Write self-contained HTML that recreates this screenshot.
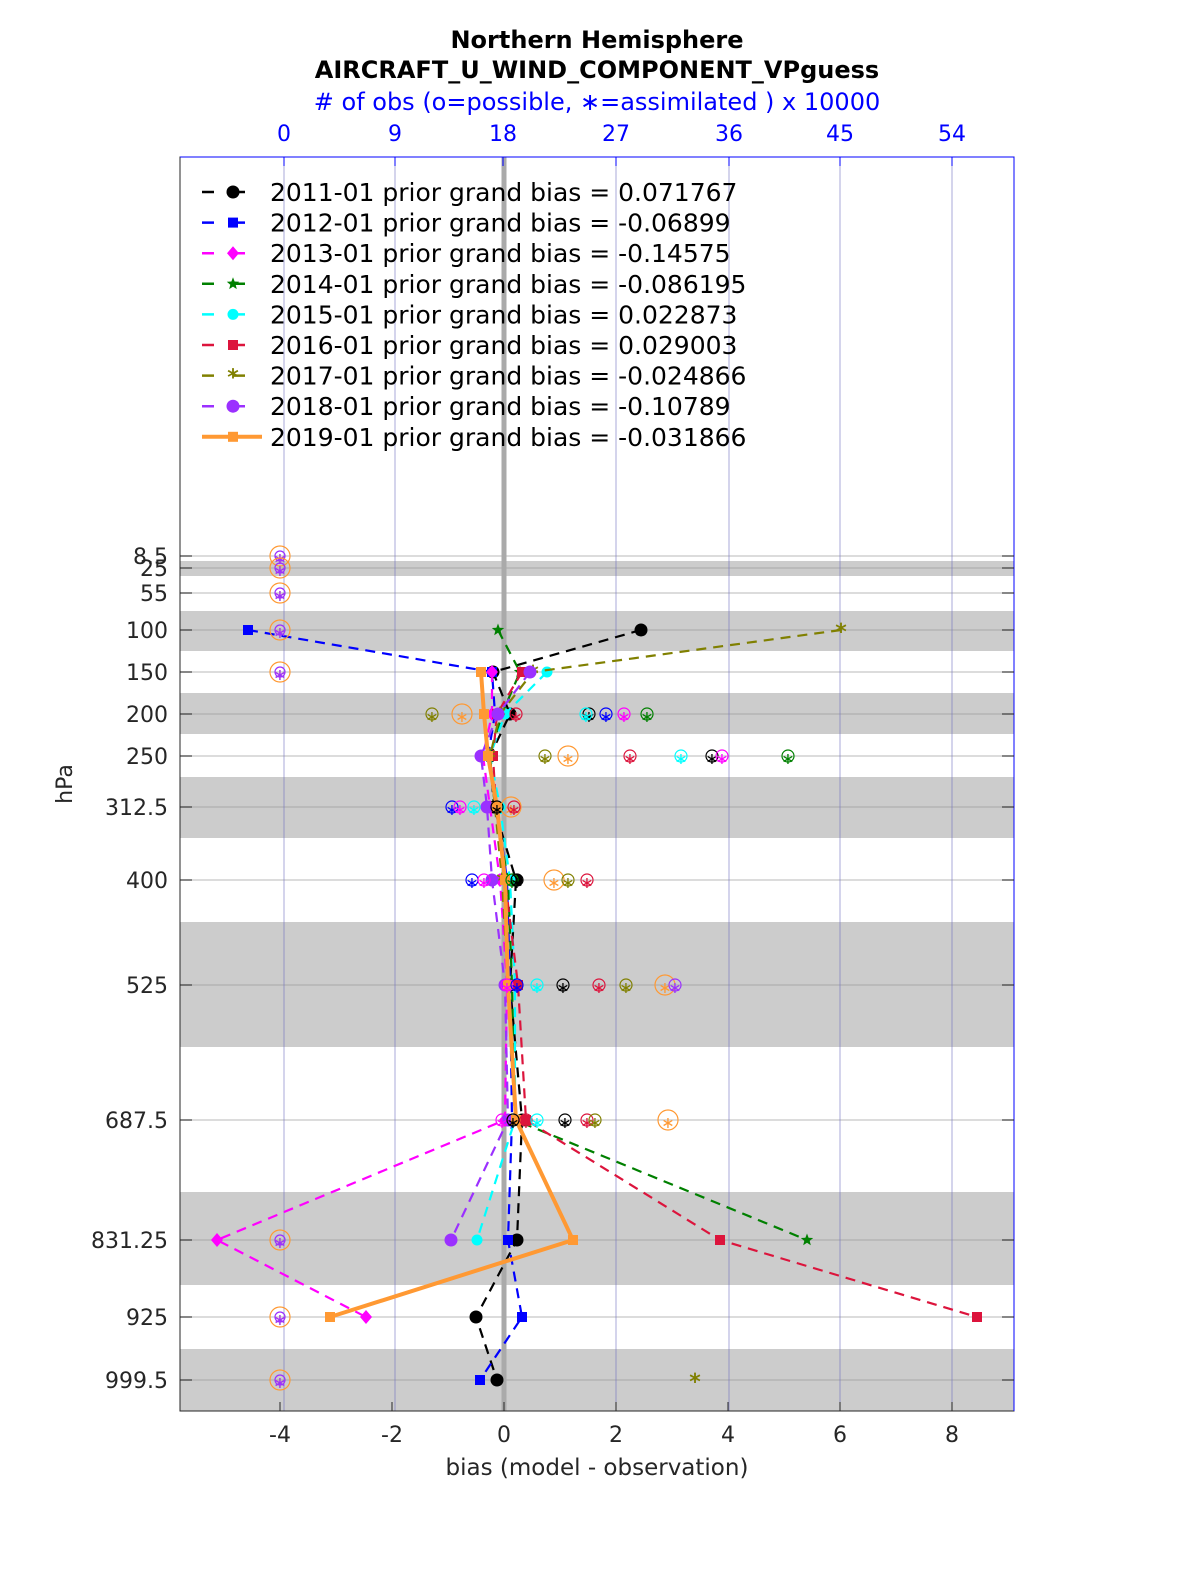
<!DOCTYPE html>
<html><head><meta charset="utf-8"><style>
html,body{margin:0;padding:0;background:#fff;overflow:hidden;width:1200px;height:1575px;}
svg{display:block;font-family:"DejaVu Sans","Liberation Sans",sans-serif;}
</style></head><body>
<svg id="s" width="1200" height="1575" viewBox="0 0 1200 1575" xmlns="http://www.w3.org/2000/svg">
<rect x="0" y="0" width="1200" height="1575" fill="#fff"/>
<g id="bands"></g>
<g id="grid"></g>
<g id="series"></g>
<g id="obs"></g>
<rect x="180" y="157" width="834" height="1254" fill="none" stroke="#262626" stroke-width="1"/>
<line x1="180" y1="157" x2="1014" y2="157" stroke="#00f" stroke-width="1"/>
<line x1="1014" y1="157" x2="1014" y2="1411" stroke="#00f" stroke-width="1"/>
<g id="ticks"></g>
<text x="597" y="48" text-anchor="middle" font-size="24" font-weight="bold">Northern Hemisphere</text>
<text x="597" y="78" text-anchor="middle" font-size="24" font-weight="bold">AIRCRAFT_U_WIND_COMPONENT_VPguess</text>
<text x="597" y="110" text-anchor="middle" font-size="24" fill="#00f"># of obs (o=possible, ∗=assimilated ) x 10000</text>
<text x="597" y="1475" text-anchor="middle" font-size="23" fill="#262626">bias (model - observation)</text>
<text x="72" y="784" text-anchor="middle" font-size="22" fill="#262626" transform="rotate(-90 72 784)">hPa</text>
<g id="legend"></g>
</svg>
<script>
const NS="http://www.w3.org/2000/svg";
function el(p,t,a,txt){const e=document.createElementNS(NS,t);for(const k in a)e.setAttribute(k,a[k]);if(txt!==undefined)e.textContent=txt;document.getElementById(p).appendChild(e);return e;}
const X=v=>504+56*v;
const L={"8.5":556,"25":568,"55":593,"100":630,"150":672,"200":714,"250":756,"312.5":807,"400":880,"525":985,"687.5":1120,"831.25":1240,"925":1317,"999.5":1380};
[[561,576],[611,651],[693,734],[777,838],[922,1047],[1192,1285],[1349,1411]].forEach(b=>el("bands","rect",{x:180,y:b[0],width:834,height:b[1]-b[0],fill:"#cccccc"}));
for(const k in L){el("grid","line",{x1:180,x2:1014,y1:L[k],y2:L[k],stroke:"#999","stroke-opacity":0.45,"stroke-width":1.5});
 el("ticks","line",{x1:180,x2:192,y1:L[k],y2:L[k],stroke:"#262626"});
 el("ticks","line",{x1:1002,x2:1014,y1:L[k],y2:L[k],stroke:"#262626"});
 el("ticks","text",{x:168,y:L[k]+8,"text-anchor":"end","font-size":22,fill:"#262626"},k);}
[284,395,503,616,729,840,952].forEach((x,i)=>{el("grid","line",{x1:x,x2:x,y1:157,y2:1411,stroke:"#7070c0","stroke-opacity":0.6,"stroke-width":1});
 el("ticks","text",{x:x,y:141,"text-anchor":"middle","font-size":22,fill:"#00f"},String(i*9));
 el("ticks","line",{x1:x,x2:x,y1:157,y2:166,stroke:"#00f"});});
el("grid","line",{x1:504,x2:504,y1:157,y2:1411,stroke:"#aaa","stroke-width":5});
[-4,-2,0,2,4,6,8].forEach(v=>{el("ticks","text",{x:X(v),y:1442,"text-anchor":"middle","font-size":22,fill:"#262626"},String(v));
 el("ticks","line",{x1:X(v),x2:X(v),y1:1402,y2:1411,stroke:"#262626"});});
const S=[
 {c:"#000",m:"o",p:[[100,641],[150,493],[200,510],[250,490],[312.5,494],[400,516],[525,510],[687.5,522],[831.25,517],[925,476],[999.5,497]]},
 {c:"#00f",m:"s",p:[[100,248],[150,492],[200,495],[250,488],[312.5,497],[400,507],[525,510],[687.5,512],[831.25,508],[925,522],[999.5,480]]},
 {c:"#f0f",m:"d",p:[[150,492],[200,492],[250,483],[312.5,490],[400,500],[525,507],[687.5,505],[831.25,217],[925,366]]},
 {c:"#008000",m:"p",p:[[100,498],[150,520],[200,502],[250,490],[312.5,495],[400,508],[525,512],[687.5,515],[831.25,807]]},
 {c:"#0ff",m:"h",p:[[150,547],[200,505],[250,490],[312.5,500],[400,510],[525,515],[687.5,515],[831.25,477]]},
 {c:"#dc143c",m:"s",p:[[150,522],[200,497],[250,493],[312.5,496],[400,505],[525,518],[687.5,526],[831.25,720],[925,977]]},
 {c:"#808000",m:"*",p:[[100,841],[150,533],[200,500],[250,490],[312.5,495],[400,502],[525,508],[687.5,515]],extra:[[999.5,695]]},
 {c:"#9b30ff",m:"o",p:[[150,530],[200,498],[250,481],[312.5,487],[400,492],[525,505],[687.5,508],[831.25,451]]},
 {c:"#ff9933",m:"s",w:4,p:[[150,481],[200,484],[250,488],[312.5,497],[400,505],[525,508],[687.5,516],[831.25,573],[925,330]]}
];
function marker(g,m,x,y,c){
 if(m==="o")el(g,"circle",{cx:x,cy:y,r:6.5,fill:c});
 else if(m==="s")el(g,"rect",{x:x-5,y:y-5,width:10,height:10,fill:c});
 else if(m==="d")el(g,"polygon",{points:`${x},${y-7} ${x+6},${y} ${x},${y+7} ${x-6},${y}`,fill:c});
 else if(m==="p"){let pts=[];for(let i=0;i<10;i++){const r=i%2?2.8:6.5,a=-Math.PI/2+i*Math.PI/5;pts.push((x+r*Math.cos(a)).toFixed(1)+","+(y+r*Math.sin(a)).toFixed(1));}el(g,"polygon",{points:pts.join(" "),fill:c});}
 else if(m==="h")el(g,"circle",{cx:x,cy:y,r:5.5,fill:c});
 else el(g,"text",{x:x,y:y+9,"text-anchor":"middle","font-size":22,"font-weight":"bold",fill:c},"*");
}
S.forEach(s=>{const pts=s.p.map(q=>[q[1],L[String(q[0])]]);
 el("series","polyline",{points:pts.map(q=>q.join(",")).join(" "),fill:"none",stroke:s.c,"stroke-width":s.w||2.2,"stroke-dasharray":s.w?"":"10,7"});
 pts.forEach(q=>marker("series",s.m,q[0],q[1],s.c));
 (s.extra||[]).forEach(q=>marker("series",s.m,q[1],L[String(q[0])],s.c));});
function obs(x,y,c,r){el("obs","circle",{cx:x,cy:y,r:r||6,fill:"none",stroke:c,"stroke-width":1.2});
 el("obs","text",{x:x,y:y+8,"text-anchor":"middle","font-size":16,fill:c},"∗");}
["8.5","25","55","100","150","831.25","925","999.5"].forEach(k=>{obs(280,L[k],"#ff9933",10);obs(280,L[k],"#9b30ff",5);});
const O=[[200,[[432,"#808000"],[462,"#ff9933",10],[516,"#dc143c"],[589,"#000"],[606,"#00f"],[624,"#f0f"],[647,"#008000"],[586,"#0ff"]]],
 [250,[[545,"#808000"],[568,"#ff9933",10],[630,"#dc143c"],[681,"#0ff"],[712,"#000"],[722,"#f0f"],[788,"#008000"]]],
 [312.5,[[452,"#00f"],[460,"#f0f"],[474,"#0ff"],[497,"#000"],[511,"#ff9933",10],[514,"#dc143c"]]],
 [400,[[472,"#00f"],[484,"#f0f"],[512,"#008000"],[517,"#000"],[554,"#ff9933",10],[568,"#808000"],[587,"#dc143c"]]],
 [525,[[507,"#f0f"],[517,"#00f"],[537,"#0ff"],[563,"#000"],[599,"#dc143c"],[626,"#808000"],[665,"#ff9933",10],[675,"#9b30ff"]]],
 [687.5,[[502,"#f0f"],[513,"#000"],[526,"#dc143c"],[537,"#0ff"],[565,"#000"],[587,"#dc143c"],[595,"#808000"],[668,"#ff9933",10]]]];
O.forEach(r=>r[1].forEach(o=>obs(o[0],L[String(r[0])],o[1],o[2])));
const names=["2011-01 prior grand bias = 0.071767","2012-01 prior grand bias = -0.06899","2013-01 prior grand bias = -0.14575","2014-01 prior grand bias = -0.086195","2015-01 prior grand bias = 0.022873","2016-01 prior grand bias = 0.029003","2017-01 prior grand bias = -0.024866","2018-01 prior grand bias = -0.10789","2019-01 prior grand bias = -0.031866"];
names.forEach((n,i)=>{const y=192+30.6*i,s=S[i];
 el("legend","line",{x1:202,x2:262,y1:y,y2:y,stroke:s.c,"stroke-width":s.w||2.5,"stroke-dasharray":s.w?"":"12,19"});
 marker("legend",s.m,233,y,s.c);
 el("legend","text",{x:270,y:y+9,"font-size":25,fill:"#000"},n);});
</script>
</body></html>
